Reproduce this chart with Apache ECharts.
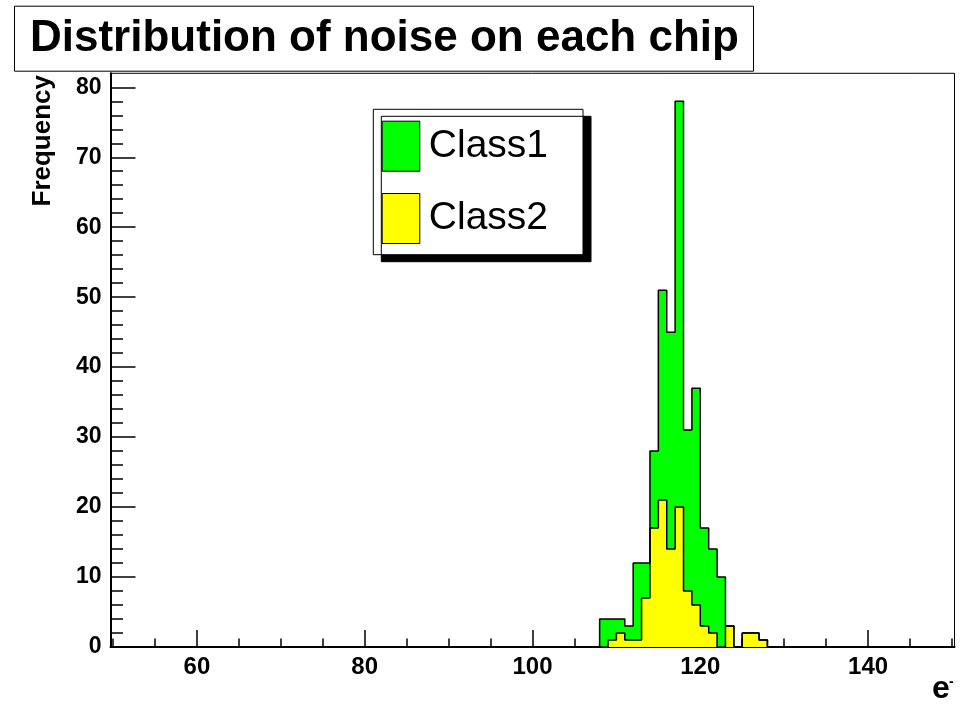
<!DOCTYPE html>
<html>
<head>
<meta charset="utf-8">
<script src="https://cdn.jsdelivr.net/npm/echarts@6/dist/echarts.min.js"></script>
<style>
  html, body { margin: 0; padding: 0; background: #fff; }
  #chart { width: 968px; height: 707px; }
</style>
</head>
<body>
<div id="chart"></div>
<script>
// histogram range and bins (bin width 1, first non-empty bin at 108)
var histMin = 50;
var histMax = 150;
var binLo = 108;
var class1 = [4, 4, 4, 3, 12, 12, 28, 51, 45, 78, 31, 37, 17, 14, 10, 3, 0, 2, 2, 1];
var class2 = [0, 1, 2, 1, 1, 7, 17, 21, 14, 20, 8, 6, 3, 2, 0, 3, 0, 2, 2, 1];

var xMajor = [60, 80, 100, 120, 140];
var xMinor = [50, 55, 60, 65, 70, 75, 80, 85, 90, 95, 100, 105, 110, 115, 120, 125, 130, 135, 140, 145, 150];
var yMajor = [0, 10, 20, 30, 40, 50, 60, 70, 80];
var yMinor = [0, 2, 4, 6, 8, 10, 12, 14, 16, 18, 20, 22, 24, 26, 28, 30, 32, 34, 36, 38, 40,
              42, 44, 46, 48, 50, 52, 54, 56, 58, 60, 62, 64, 66, 68, 70, 72, 74, 76, 78, 80];

var FONT = 'Liberation Sans';

// bin edges -> step points
function stepData(vals) {
    var pts = [];
    for (var x = histMin; x < histMax; x++) {
        var i = x - binLo;
        pts.push([x, (i >= 0 && i < vals.length) ? vals[i] : 0]);
    }
    pts.push([histMax, 0]);
    return pts;
}

function tickAxis(isMajor, vals, len, extra) {
    var a = {
        type: 'value',
        axisLine: { show: isMajor, lineStyle: { color: '#000', width: 2 } },
        axisTick: { show: true, inside: true, length: len, customValues: vals,
                    lineStyle: { color: '#000', width: 1.5 } },
        axisLabel: { show: isMajor },
        splitLine: { show: false }
    };
    for (var k in extra) a[k] = extra[k];
    return a;
}

var labelStyle = { fontSize: 23, fontWeight: 'bold', fontFamily: FONT, color: '#000' };

var xLab = Object.assign({ show: true, customValues: xMajor, margin: 8 }, labelStyle, { fontSize: 24 });
var yLab = Object.assign({ show: true, customValues: yMajor, margin: 9 }, labelStyle);

var myChart = echarts.init(document.getElementById('chart'));
var xa0 = tickAxis(true, xMajor, 17, { min: 49.7, max: 150.3, position: 'bottom' });
xa0.axisLabel = xLab;
var ya0 = tickAxis(true, yMajor, 25, { min: 0, max: 82, position: 'left' });
ya0.axisLabel = yLab;

myChart.setOption({
    animation: false,
    title: {
        text: 'Distribution of noise on each chip',
        left: 14, top: 5.7,
        padding: [11, 15, 11, 16],
        borderColor: '#000', borderWidth: 1, backgroundColor: '#fff',
        textStyle: { fontSize: 44, fontWeight: 'bold', fontFamily: FONT, color: '#000' }
    },
    legend: {
        orient: 'vertical',
        left: 373.3, top: 109.3,
        padding: [11.4, 35, 10.7, 8.4],
        itemWidth: 37.6, itemHeight: 50, itemGap: 21.3,
        backgroundColor: '#fff', borderColor: '#000', borderWidth: 1,
        shadowColor: '#000', shadowOffsetX: 8, shadowOffsetY: 7, shadowBlur: 0,
        selectedMode: false,
        textStyle: { fontSize: 39, fontFamily: FONT, color: '#000', padding: [0, 0, 0, 4] },
        data: [
            { name: 'Class1', icon: 'rect', itemStyle: { color: '#00ff00', borderColor: '#000', borderWidth: 1 } },
            { name: 'Class2', icon: 'rect', itemStyle: { color: '#ffff00', borderColor: '#000', borderWidth: 1 } }
        ]
    },
    grid: {
        left: 110.5, right: 13.5, top: 73.3, bottom: 60,
        show: true, borderColor: '#000', borderWidth: 1,
        outerBoundsMode: 'none'
    },
    xAxis: [
        xa0,
        tickAxis(false, xMinor, 8.5, { min: 49.7, max: 150.3, position: 'bottom' })
    ],
    yAxis: [
        ya0,
        tickAxis(false, yMinor, 12.5, { min: 0, max: 82, position: 'left' })
    ],
    graphic: [
        { type: 'text', x: 56, y: 75, rotation: Math.PI / 2,
          style: { text: 'Frequency', fontSize: 26, fontWeight: 'bold', fontFamily: FONT, fill: '#000',
                   align: 'right', verticalAlign: 'bottom' } },
        { type: 'text', x: 932, y: 689,
          style: { text: 'e', fontSize: 32, fontWeight: 'bold', fontFamily: FONT, fill: '#000',
                   align: 'left', verticalAlign: 'middle' } },
        { type: 'text', x: 949, y: 682,
          style: { text: '-', fontSize: 14, fontWeight: 'bold', fontFamily: FONT, fill: '#000',
                   align: 'left', verticalAlign: 'middle' } }
    ],
    series: [
        {
            name: 'Class1', type: 'line', step: 'end', symbol: 'none',
            data: stepData(class1),
            itemStyle: { color: '#00ff00' },
            lineStyle: { color: '#000', width: 1.5 },
            areaStyle: { color: '#00ff00', opacity: 1 }
        },
        {
            name: 'Class2', type: 'line', step: 'end', symbol: 'none',
            data: stepData(class2),
            itemStyle: { color: '#ffff00' },
            lineStyle: { color: '#000', width: 1.5 },
            areaStyle: { color: '#ffff00', opacity: 1 }
        }
    ]
});
</script>
</body>
</html>
